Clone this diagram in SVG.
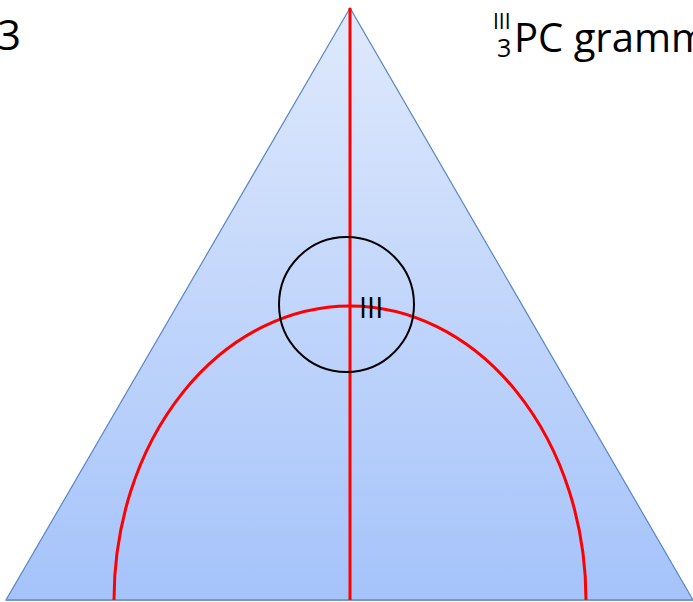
<svg xmlns="http://www.w3.org/2000/svg" width="693" height="602" viewBox="0 0 693 602">
<style>
.lbl{font-family:"Open Sans","Liberation Sans",sans-serif;fill:#000}
.red{stroke:#ff0000;stroke-width:3;fill:none}
</style>
<defs>
<linearGradient id="g" x1="0" y1="0" x2="0" y2="1">
<stop offset="0" stop-color="#dfe9fc"/>
<stop offset="1" stop-color="#a5c3fa"/>
</linearGradient>
</defs>
<rect width="693" height="602" fill="#fff"/>
<g id="triangle">
<polygon points="350,8 6,600 693,600" fill="url(#g)" stroke="#5a86c5" stroke-width="1.2"/>
<line x1="6" y1="600" x2="693" y2="600" stroke="#7898c4" stroke-width="2"/>
</g>
<g id="connectors">
<line class="red" x1="350" y1="8" x2="350" y2="600"/>
<path class="red" d="M114,600 A236,294 0 0 1 586,600"/>
</g>
<g id="circle">
<circle cx="346.5" cy="304.5" r="67.5" fill="none" stroke="#000" stroke-width="2"/>
<text class="lbl" x="359" y="318" font-size="29">III</text>
</g>
<g id="labels">
<text class="lbl" x="-3" y="50" font-size="42">3</text>
<text class="lbl" x="493" y="29" font-size="21">III</text>
<text class="lbl" x="497" y="57" font-size="25">3</text>
<text class="lbl" x="514" y="52" font-size="40">PC gramm</text>
</g>
</svg>
